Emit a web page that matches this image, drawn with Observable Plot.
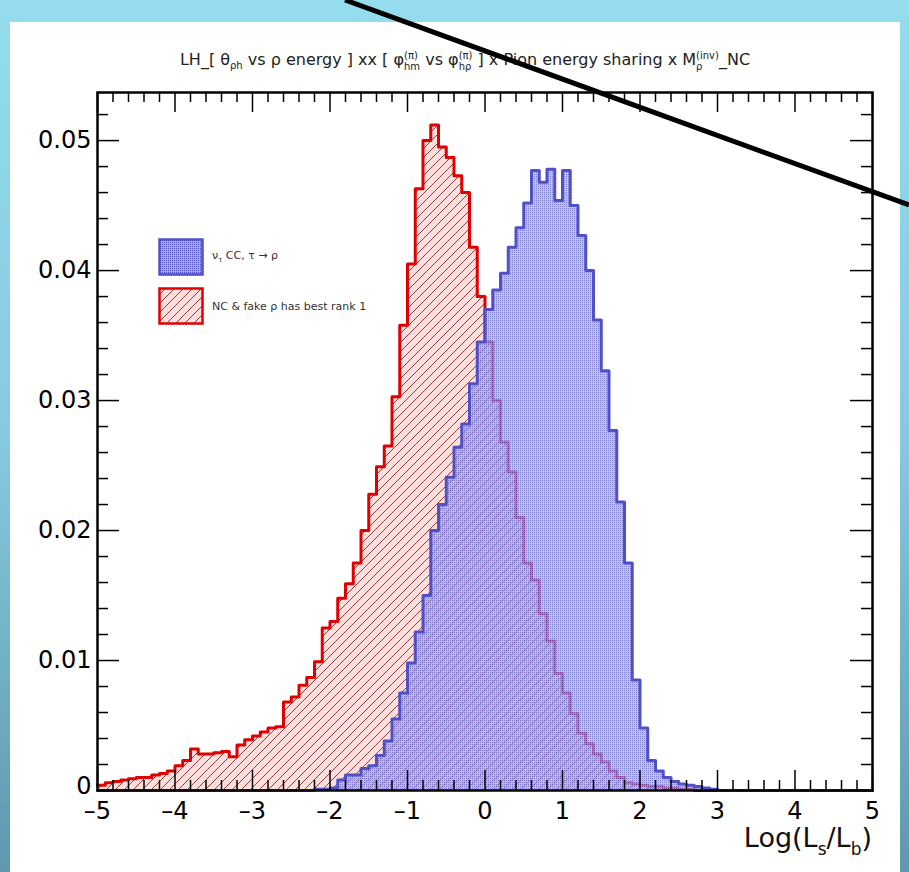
<!DOCTYPE html>
<html><head><meta charset="utf-8">
<script src="https://cdn.jsdelivr.net/npm/d3@7"></script>
<script src="https://cdn.jsdelivr.net/npm/@observablehq/plot@0.6"></script>
<style>
html,body{margin:0;padding:0;}
body{width:909px;height:872px;position:relative;overflow:hidden;background:linear-gradient(to bottom,#94dcee 0%,#86cadf 50%,#5f98ae 100%);font-family:"DejaVu Sans",sans-serif;}
#panel{position:absolute;left:10px;top:22px;width:890px;height:850px;background:#fff;}
#chart{position:absolute;left:0;top:0;}
#title{position:absolute;left:0;width:910px;top:26px;text-align:center;font-size:16px;color:#222;white-space:nowrap;line-height:24px;}
.ss{display:inline-flex;flex-direction:column;vertical-align:middle;font-size:10px;line-height:11px;text-align:left;}
#xlabel{position:absolute;right:28px;top:802px;font-size:27px;line-height:1;color:#111;white-space:nowrap;}
#xlabel sub{font-size:17px;vertical-align:-8px;}
.leg{position:absolute;left:148px;display:flex;align-items:center;font-size:11px;color:#333;white-space:nowrap;}
.leg svg{margin-right:8px;}
#slash{position:absolute;left:0;top:0;pointer-events:none;}
</style></head>
<body>
<div id="panel">
  <div id="chart"></div>
  <div id="title">LH_[ θ<sub style="font-size:10px">ρh</sub> vs ρ energy ] xx [ φ<span class="ss"><span>(π)</span><span>hm</span></span> vs φ<span class="ss"><span>(π)</span><span>hρ</span></span> ] x Pion energy sharing x M<span class="ss"><span>(inv)</span><span>ρ</span></span>_NC</div>
  <div class="leg" id="leg1" style="top:216px"><svg width="46" height="38"><rect x="1.5" y="1.5" width="43" height="35" fill="url(#dotsBlue)" stroke="#5050c8" stroke-width="2.5"/></svg><span>ν<sub style="font-size:7px">τ</sub> CC, τ → ρ</span></div>
  <div class="leg" id="leg2" style="top:265px"><svg width="46" height="38"><rect x="1.5" y="1.5" width="43" height="35" fill="url(#hatchRed)" stroke="#e00000" stroke-width="2.5"/></svg><span>NC &amp; fake ρ has best rank 1</span></div>
  <div id="xlabel">Log(L<sub>s</sub>/L<sub>b</sub>)</div>
</div>
<svg id="slash" width="909" height="872"><line x1="345" y1="0" x2="909" y2="205" stroke="#000" stroke-width="5"/></svg>
<script>
// ---- data: histogram bins of width 0.1 starting at -5 ----
const binStart = -5;
const binWidth = 0.1;
const ncFakeRho = [
 0.0004,0.0006,0.0007,0.0008,0.0009,0.0010,0.0010,0.0012,0.0013,0.0015,
 0.0019,0.0023,0.0032,0.0028,0.0028,0.0029,0.0030,0.0026,0.0035,0.0039,
 0.0042,0.0045,0.0048,0.0049,0.0068,0.0072,0.0081,0.0087,0.0099,0.0125,
 0.0130,0.0148,0.0159,0.0175,0.0200,0.0228,0.0249,0.0265,0.0303,0.0358,
 0.0405,0.0463,0.0500,0.0512,0.0495,0.0487,0.0473,0.0460,0.0418,0.0380,
 0.0345,0.0300,0.0268,0.0245,0.0210,0.0175,0.0162,0.0136,0.0115,0.0090,
 0.0075,0.0059,0.0044,0.0036,0.0028,0.0022,0.0015,0.0010,0.0006,0.0005,
 0.0004,0.0003,0.0003,0.0002,0.0002,0.0001,0.0001,0,0,0,
 0,0,0,0,0,0,0,0,0,0,
 0,0,0,0,0,0,0,0,0,0];
const nuTauCC = [
 0,0,0,0,0,0,0,0,0,0,
 0,0,0,0,0,0,0,0,0,0,
 0,0,0,0,0,0,0,0,0.0001,0.0001,
 0.0002,0.0008,0.0012,0.0012,0.0017,0.0019,0.0027,0.0038,0.0055,0.0075,
 0.0098,0.0122,0.0150,0.0200,0.0220,0.0241,0.0264,0.0282,0.0313,0.0345,
 0.0370,0.0385,0.0398,0.0418,0.0433,0.0452,0.0477,0.0468,0.0478,0.0454,
 0.0477,0.0450,0.0427,0.0400,0.0362,0.0323,0.0277,0.0222,0.0175,0.0085,
 0.0048,0.0023,0.0015,0.0010,0.0007,0.0005,0.0004,0.0003,0.0002,0.0001,
 0,0,0,0,0,0,0,0,0,0,
 0,0,0,0,0,0,0,0,0,0];
const xTickLabels = [-5,-4,-3,-2,-1,0,1,2,3,4,5];
const yTickLabels = [0,0.01,0.02,0.03,0.04,0.05];

function steps(vals){
  const pts = vals.map((v,i)=>({x: binStart + i*binWidth, v}));
  pts.push({x: binStart + vals.length*binWidth, v: vals[vals.length-1]});
  return pts;
}
const red = steps(ncFakeRho), blue = steps(nuTauCC);
const xMinor = d3.range(-50, 51, 2).map(d=>d/10).filter(d=>!Number.isInteger(d));
const yMinor = d3.range(0, 54, 2).map(d=>d/1000).filter(d=>Math.round(d*1000)%10!==0);

const W=890,H=850,ML=87,MR=28,MT=70,MB=82;
const FW=W-ML-MR, FH=H-MT-MB;
const tk = {stroke:"black", strokeWidth:1.5};
const fmtX = d => d < 0 ? "\u2013" + Math.abs(d) : String(d);
const fmtY = d => d === 0 ? "0" : d.toFixed(2);

const plot = Plot.plot({
  width: W, height: H, marginLeft: ML, marginRight: MR, marginTop: MT, marginBottom: MB,
  x: {domain: [-5, 5]},
  y: {domain: [0, 0.0537]},
  style: {fontFamily: "DejaVu Sans", fontSize: "24px", color: "black", background: "transparent", overflow: "visible"},
  marks: [
    Plot.areaY(red, {x: "x", y: "v", curve: "step-after", fill: "url(#hatchRed)"}),
    Plot.lineY(red, {x: "x", y: "v", curve: "step-after", stroke: "#e00000", strokeWidth: 3}),
    Plot.areaY(blue, {x: "x", y: "v", curve: "step-after", fill: "url(#dotsBlue)", fillOpacity: 0.72}),
    Plot.lineY(blue, {x: "x", y: "v", curve: "step-after", stroke: "#5050c8", strokeWidth: 3}),
    // inward ticks
    Plot.ruleX(xTickLabels, {...tk, insetTop: FH - 20}),
    Plot.ruleX(xMinor, {...tk, insetTop: FH - 10}),
    Plot.ruleX(xTickLabels, {...tk, insetBottom: FH - 20}),
    Plot.ruleX(xMinor, {...tk, insetBottom: FH - 10}),
    Plot.ruleY(yTickLabels, {...tk, insetRight: FW - 22}),
    Plot.ruleY(yMinor, {...tk, insetRight: FW - 11}),
    Plot.ruleY(yTickLabels, {...tk, insetLeft: FW - 22}),
    Plot.ruleY(yMinor, {...tk, insetLeft: FW - 11}),
    Plot.frame({stroke: "black", strokeWidth: 2.5}),
    Plot.axisX({ticks: xTickLabels, tickSize: 0, tickPadding: 11, tickFormat: fmtX, label: null, anchor: "bottom"}),
    Plot.axisY({ticks: yTickLabels.filter(d => d !== 0), tickSize: 0, tickPadding: 6, tickFormat: fmtY, label: null, anchor: "left"}),
    Plot.axisY({ticks: yTickLabels.filter(d => d === 0), tickSize: 0, tickPadding: 6, tickFormat: fmtY, label: null, anchor: "left", dy: -4})
  ]
});
d3.select(plot).insert("defs", ":first-child").html(`
  <pattern id="hatchRed" patternUnits="userSpaceOnUse" width="9" height="9">
    <rect width="9" height="9" fill="#ffdede"/>
    <path d="M-1,1 l2,-2 M0,9 l9,-9 M8,10 l2,-2" stroke="#8a2a2a" stroke-width="0.9"/>
  </pattern>
  <pattern id="dotsBlue" patternUnits="userSpaceOnUse" width="2" height="2">
    <rect width="2" height="2" fill="#a8a8ea"/>
    <rect width="1" height="1" fill="#5050c0"/>
  </pattern>`);
document.getElementById("chart").appendChild(plot);
</script>
</body></html>
